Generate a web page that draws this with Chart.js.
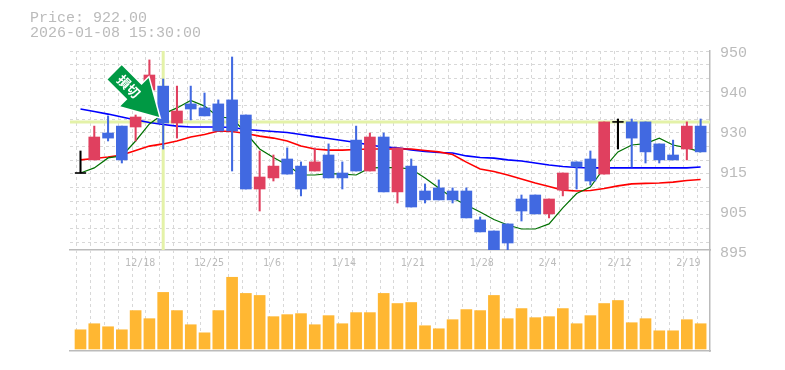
<!DOCTYPE html>
<html>
<head>
<meta charset="utf-8">
<style>
  html, body { margin: 0; padding: 0; background: #fff; }
  #wrap { position: relative; width: 785px; height: 370px; overflow: hidden; }
  #info { position: absolute; left: 30px; top: 11px; font: 15px/15px "Liberation Mono", monospace; color: #bbb; white-space: pre; }
  #priceChart { position: absolute; left: 0; top: 0; }
  #volChart { position: absolute; left: 0; top: 250px; }
</style>
</head>
<body>
<div id="wrap">
  <canvas id="priceChart" width="785" height="270"></canvas>
  <canvas id="volChart" width="785" height="105"></canvas>
  <div id="info">Price: 922.00
2026-01-08 15:30:00</div>
</div>
<script src="https://cdn.jsdelivr.net/npm/chart.js@4"></script>
<script>
// === Data ===
const opens = [917, 920.6, 928, 929.9, 929.65, 939.8, 940.9, 930.75, 936, 934.9, 936, 937.1, 932.95, 912.6, 915.65, 920.85, 918.9, 917.55, 921.95, 917, 926.05, 917.55, 926.9, 911.8, 918.9, 912.05, 912.9, 912.05, 912.05, 904.1, 901.05, 903, 909.85, 910.95, 905.75, 912.3, 920.05, 920.85, 916.7, 931.05, 931.05, 931.05, 925, 921.95, 923.6, 929.9];
const closes = [917, 926.9, 926.6, 920.6, 932.4, 943.95, 930.75, 934.05, 934.6, 932.7, 928.55, 928.55, 912.6, 915.9, 918.9, 916.7, 912.6, 920.05, 915.65, 915.65, 917.55, 926.9, 911.8, 923.9, 907.65, 909.6, 909.6, 909.6, 904.65, 900.8, 895.5, 897.75, 906.55, 905.75, 909.85, 917, 918.65, 914.8, 931.05, 931.05, 926.6, 922.8, 920.6, 920.6, 929.9, 922.8];
const highs = [923.05, 929.9, 932.7, 929.9, 932.95, 948.1, 942.85, 940.9, 940.9, 939, 937.1, 948.9, 932.95, 923.05, 921.95, 923.9, 920.05, 923.9, 925, 920.05, 929.9, 928, 928, 923.9, 920.85, 914, 915.1, 912.9, 912.9, 904.9, 901.05, 903, 910.95, 910.95, 909.85, 917, 920.05, 923.05, 931.05, 931.85, 931.85, 931.05, 925, 926.05, 931.05, 931.85];
const lows = [917, 920.6, 925.8, 919.75, 925.8, 938.45, 923.6, 926.6, 931.6, 932.7, 928.55, 917.55, 912.6, 906.55, 914.8, 916.7, 910.7, 917.55, 915.65, 912.6, 917.55, 917.55, 911.8, 908.75, 907.65, 908.75, 909.6, 908.75, 904.65, 900.8, 895.5, 895.5, 903.8, 905.75, 904.65, 910.7, 912.6, 913.7, 916.7, 923.6, 918.65, 919.75, 919.75, 920.6, 920.6, 922.8];
const maShort = [917, 918.4, 921.15, 921.7, 925.8, 930.5, 933.2, 934.9, 936.95, 935.4, 932.4, 932.1, 928, 923.6, 921.25, 919.2, 916.45, 916.45, 916.85, 916.7, 916.45, 918.4, 918.5, 918.5, 918.1, 915.65, 912.9, 910.1, 908.2, 906.3, 904.2, 902.7, 901.6, 901.6, 903, 907.4, 911.35, 913.15, 918.4, 922.8, 924.7, 925.1, 926.6, 924.7, 923.9, 922.8];
const maMid = [920.6, 921, 921.4, 921.95, 923.2, 924.4, 925, 925.8, 926.9, 927.6, 928.55, 928.4, 927.85, 927.15, 926.6, 925.8, 924.4, 923.6, 923.3, 923.3, 923.45, 923.6, 923.6, 923.6, 923.6, 923.2, 922.8, 922.1, 920, 918.1, 917.4, 916.45, 915.35, 914.25, 913.3, 912.3, 912.05, 912.2, 912.75, 913.45, 914, 914.15, 914.25, 914.5, 914.95, 915.2];
const maLong = [934.6, 933.9, 933.2, 932.4, 931.6, 930.9, 930.35, 929.9, 929.65, 929.65, 929.65, 929.5, 928.95, 928.7, 928.4, 928.15, 927.6, 927, 926.5, 925.95, 925.4, 924.7, 924.15, 923.9, 923.35, 922.9, 922.65, 922.5, 921.7, 921.25, 921.1, 920.6, 920.3, 919.75, 919.2, 918.8, 918.5, 918.4, 918.4, 918.4, 918.4, 918.4, 918.4, 918.4, 918.4, 918.65];
const volumes = [19, 25, 22, 19, 38, 30, 56, 38, 24, 16, 38, 71, 55, 53, 32, 34, 35, 24, 33, 25, 36, 36, 55, 45, 46, 23, 20, 29, 39, 38, 53, 30, 40, 31, 32, 40, 25, 33, 45, 48, 26, 30, 18, 18, 29, 25];
const dateLabels = ["12/18", "12/25", "1/6", "1/14", "1/21", "1/28", "2/4", "2/12", "2/19"];
const priceLabels = ["950", "940", "930", "915", "905", "895"];
const crossIndex = 6;
const crossPrice = 931.05;

// === Colors and axis setup ===
const RED = "#e0405f";
const BLUE = "#4169e1";
const GRID = "#d8d8d8";
const AXIS = "#bbbbbb";
const TEXT = "#bbbbbb";
const FONT = "Liberation Mono";

const LEFT = 70;
const RIGHT_GUTTER = 75;
const X_MIN = -0.762;
const X_MAX = 45.68;
const Y_MIN = 895.825;
const Y_MAX = 950.55;
const Y_GRID_STEP = 3.754;
const Y_LABEL_STEP = 11;

const indices = opens.map((_, i) => i);
const candleColor = (i) =>
  closes[i] > opens[i] ? RED : closes[i] < opens[i] ? BLUE : "#000";

function xScale(extra) {
  return {
    type: "linear",
    offset: false,
    min: X_MIN,
    max: X_MAX,
    afterBuildTicks: (s) => {
      s.ticks = [];
      for (let k = 0; k <= 46; k++) s.ticks.push({ value: X_MIN + k });
    },
    grid: { color: GRID, lineWidth: 1, drawTicks: false },
    ...extra,
  };
}

// === Arrow marker ===
const arrowPlugin = {
  id: "arrow",
  afterDatasetsDraw(chart) {
    const { ctx, scales } = chart;
    const tipX = scales.x.getPixelForValue(crossIndex) - 4;
    const tipY = scales.y.getPixelForValue(crossPrice) - 5;
    ctx.save();
    ctx.translate(tipX, tipY);
    ctx.rotate(Math.PI / 4);
    ctx.beginPath();
    ctx.moveTo(0, 0);
    ctx.lineTo(-35, -20);
    ctx.lineTo(-35, -10);
    ctx.lineTo(-63, -10);
    ctx.lineTo(-63, 10);
    ctx.lineTo(-35, 10);
    ctx.lineTo(-35, 20);
    ctx.closePath();
    ctx.lineWidth = 3;
    ctx.strokeStyle = "#fff";
    ctx.stroke();
    ctx.fillStyle = "#009944";
    ctx.fill();
    ctx.fillStyle = "#fff";
    ctx.font = "bold 13px 'Noto Sans CJK JP'";
    ctx.textAlign = "center";
    ctx.textBaseline = "middle";
    ctx.fillText("損切", -43, 0);
    ctx.restore();
  },
};

// === Price chart ===
new Chart(document.getElementById("priceChart"), {
  data: {
    datasets: [
      {
        type: "bar",
        order: 1,
        data: indices.map((i) => ({ x: i, y: [opens[i], closes[i]] })),
        backgroundColor: indices.map(candleColor),
        barThickness: 11,
        grouped: false,
      },
      {
        type: "bar",
        order: 2,
        data: indices.map((i) => ({ x: i, y: [lows[i], highs[i]] })),
        backgroundColor: indices.map(candleColor),
        barThickness: 1.4,
        grouped: false,
      },
      {
        type: "scatter",
        order: 0,
        data: indices.filter((i) => opens[i] === closes[i]).map((i) => ({ x: i, y: closes[i] })),
        pointStyle: "line",
        pointRadius: 5.5,
        borderColor: "#000",
        borderWidth: 1.4,
      },
      lineSet(maShort, "#007000", 1.2, 3),
      lineSet(maMid, "#ff0000", 1.6, 4),
      lineSet(maLong, "#0000ff", 1.6, 5),
      crossSet([{ x: X_MIN, y: crossPrice }, { x: X_MAX, y: crossPrice }]),
      crossSet([{ x: crossIndex, y: Y_MIN }, { x: crossIndex, y: Y_MAX }]),
    ],
  },
  plugins: [arrowPlugin],
  options: {
    responsive: false,
    animation: false,
    layout: { padding: { left: LEFT, top: 51, right: 0, bottom: 20 } },
    plugins: { legend: { display: false }, tooltip: { enabled: false } },
    scales: {
      x: xScale({
        ticks: { display: false },
        border: { display: true, color: AXIS, width: 1.5, dash: [3, 3] },
        afterFit: (s) => { s.height = 0; },
      }),
      y: {
        type: "linear",
        position: "right",
        min: Y_MIN,
        max: Y_MAX,
        afterBuildTicks: (s) => {
          s.ticks = [];
          for (let k = 0; k < 15; k++) s.ticks.push({ value: Y_MAX - k * Y_GRID_STEP });
        },
        grid: { color: GRID, drawTicks: false },
        border: { display: true, color: AXIS, width: 1.5, dash: [3, 3] },
        ticks: { display: false },
        afterFit: (s) => { s.width = 0; },
      },
      yLabel: {
        type: "linear",
        position: "right",
        min: Y_MIN,
        max: Y_MAX,
        // labels sit at even steps, the printed numbers are not evenly spaced
        afterBuildTicks: (s) => {
          s.ticks = priceLabels.map((_, i) => ({ value: 950 - i * Y_LABEL_STEP }));
        },
        grid: { display: false, drawTicks: false },
        border: { display: false },
        ticks: {
          color: TEXT,
          padding: 10,
          font: { family: FONT, size: 15 },
          autoSkip: false,
          callback: (v, i) => priceLabels[i],
        },
        afterFit: (s) => { s.width = RIGHT_GUTTER; },
      },
    },
  },
});

function lineSet(values, color, width, order) {
  return {
    type: "line",
    order,
    data: values.map((v, i) => ({ x: i, y: v })),
    borderColor: color,
    borderWidth: width,
    pointRadius: 0,
    fill: false,
  };
}

function crossSet(points) {
  return {
    type: "line",
    order: 6,
    data: points,
    borderColor: "#e4f2a8",
    borderWidth: 3,
    pointRadius: 0,
    fill: false,
  };
}

// === Volume chart ===
new Chart(document.getElementById("volChart"), {
  data: {
    datasets: [
      {
        type: "bar",
        data: indices.map((i) => ({ x: i, y: volumes[i] })),
        backgroundColor: "#ffb732",
        barThickness: 11,
      },
    ],
  },
  options: {
    responsive: false,
    animation: false,
    layout: { padding: { left: LEFT, top: 0, right: 0, bottom: 4 } },
    plugins: { legend: { display: false }, tooltip: { enabled: false } },
    scales: {
      x: xScale({
        position: "top",
        border: { display: false, dash: [3, 3] },
        ticks: {
          color: TEXT,
          align: "start",
          mirror: true, // mirror flips the padding and keeps labels from being clipped to the flat axis
          padding: 7,
          maxRotation: 0,
          autoSkip: false,
          font: { family: "DejaVu Sans Mono", size: 10 },
          callback: (v, k) => (k % 5 === 4 ? dateLabels[(k - 4) / 5] : ""),
        },
        afterFit: (s) => { s.height = 0; },
      }),
      xBase: {
        type: "linear",
        position: "bottom",
        offset: false,
        min: X_MIN,
        max: X_MAX,
        grid: { display: false, drawTicks: false },
        border: { display: true, color: AXIS, width: 1.5 },
        ticks: { display: false },
        afterFit: (s) => { s.height = 0; },
      },
      y: {
        type: "linear",
        position: "right",
        min: -2,
        max: 98,
        grid: { display: false, drawTicks: false },
        border: { display: true, color: AXIS, width: 1.5 },
        ticks: { display: false },
        afterFit: (s) => { s.width = RIGHT_GUTTER; },
      },
    },
  },
});
</script>
</body>
</html>
